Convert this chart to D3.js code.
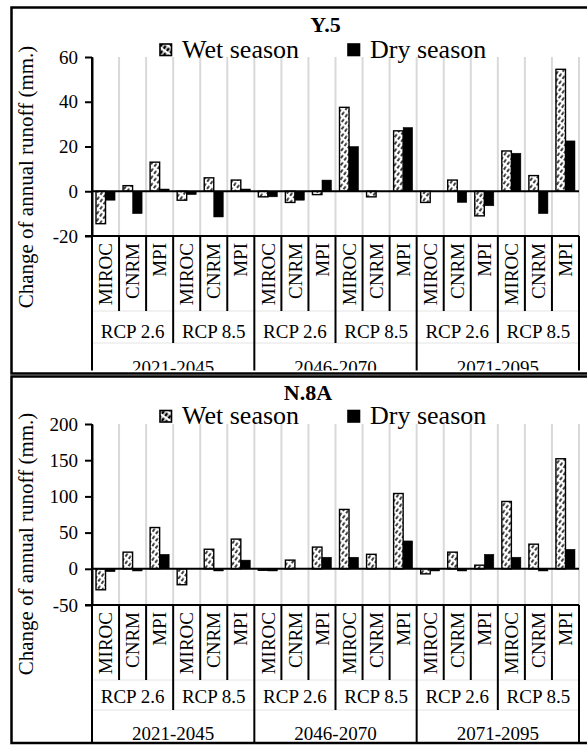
<!DOCTYPE html>
<html>
<head>
<meta charset="utf-8">
<script src="https://cdn.jsdelivr.net/npm/d3@7"></script>
<style>
  html, body { margin: 0; padding: 0; background: #fff; }
  svg { display: block; }
</style>
</head>
<body>
<svg id="chart" width="587" height="745"></svg>
<script>
// Category hierarchy of the multi-level axis
const periods = ["2021-2045", "2046-2070", "2071-2095"];
const scenarios = ["RCP 2.6", "RCP 8.5"];
const models = ["MIROC", "CNRM", "MPI"];
const seriesNames = ["Wet season", "Dry season"];

// Station Y.5 : change of annual runoff (mm.)
const y5Wet = [-14.5, 2.5, 13, -4, 6, 5, -2.5, -5, -1.5, 37.5, -2.5, 27, -5, 5, -11, 18, 7, 54.5];
const y5Dry = [-4, -10, 1, -1.5, -11.5, 1, -2.5, -4, 5, 20, 0, 28.5, 0, -5, -6.5, 17, -10, 22.5];
const y5Ticks = [-20, 0, 20, 40, 60];

// Station N.8A : change of annual runoff (mm.)
const n8aWet = [-29, 23, 57, -22, 27, 41, -2, 12, 30, 82, 20, 104, -7, 23, 5, 93, 34, 152];
const n8aDry = [-4, -3, 20, 0, -3, 12, -3, 0, 16, 16, 0, 38.5, -3, -3, 20, 16, -3, 27];
const n8aTicks = [-50, 0, 50, 100, 150, 200];

const yTitle = "Change of annual runoff (mm.)";
const SERIF = "'Liberation Serif', 'DejaVu Serif', serif";

// Flattened category list: period > scenario > model
const categories = [];
periods.forEach((p, pi) => scenarios.forEach((s, si) => models.forEach((m, mi) => {
  categories.push({ period: p, scenario: s, model: m, pi, si, mi });
})));

const svg = d3.select("#chart").style("font-family", SERIF);
const defs = svg.append("defs");

// Dashed upward-diagonal hatch (bars, and a heavier one for the legend key)
function makeHatch(id, sw) {
  const p = defs.append("pattern")
    .attr("id", id)
    .attr("patternUnits", "userSpaceOnUse")
    .attr("width", 6).attr("height", 4)
    .attr("patternTransform", "rotate(-55)");
  p.append("rect").attr("width", 6).attr("height", 4).attr("fill", "#fff");
  p.append("line")
    .attr("x1", 0).attr("x2", 3.6).attr("y1", 2).attr("y2", 2)
    .attr("stroke", "#000").attr("stroke-width", sw);
}
makeHatch("hatch", 1.5);
makeHatch("hatchKey", 2.6);

const X0 = 92, X1 = 579;
const x = d3.scaleBand().domain(d3.range(categories.length)).range([X0, X1]).paddingInner(0).paddingOuter(0);
const xs = d3.scaleBand().domain(["wet", "dry"]).range([0, x.bandwidth()]).paddingInner(0).paddingOuter(0.42);

function txt(sel, size, weight) {
  return sel.style("font-family", SERIF).style("font-size", size + "px")
    .style("font-weight", weight || "normal").attr("fill", "#000");
}

function drawPanel(cfg, idx) {
  const g = svg.append("g");
  const y = d3.scaleLinear().domain([cfg.ticks[0], cfg.ticks[cfg.ticks.length - 1]]).range([cfg.plotBottom, cfg.plotTop]);
  const axisY = cfg.plotBottom;

  // vertical gridlines at category boundaries
  g.append("g").selectAll("line")
    .data(d3.range(1, categories.length + 1))
    .join("line")
    .attr("x1", k => X0 + k * x.step()).attr("x2", k => X0 + k * x.step())
    .attr("y1", cfg.plotTop).attr("y2", axisY)
    .attr("stroke", "#d9d9d9").attr("stroke-width", 2);

  // bars
  const barG = g.append("g");
  const rows = categories.map((c, i) => ({ i, wet: cfg.wet[i], dry: cfg.dry[i] }));
  ["wet", "dry"].forEach(key => {
    barG.append("g").selectAll("rect")
      .data(rows.filter(r => r[key] !== 0))
      .join("rect")
      .attr("x", r => x(r.i) + xs(key))
      .attr("width", xs.bandwidth())
      .attr("y", r => y(Math.max(0, r[key])))
      .attr("height", r => Math.abs(y(r[key]) - y(0)))
      .attr("fill", key === "wet" ? "url(#hatch)" : "#000")
      .attr("stroke", "#000")
      .attr("stroke-width", key === "wet" ? 1.4 : 0.5);
  });

  // zero line
  g.append("line")
    .attr("x1", X0).attr("x2", X1).attr("y1", y(0)).attr("y2", y(0))
    .attr("stroke", "#000").attr("stroke-width", 2);

  // value axis
  const ax = g.append("g")
    .attr("transform", `translate(${X0},0)`)
    .call(d3.axisLeft(y).tickValues(cfg.ticks).tickSize(7).tickSizeOuter(0).tickPadding(7).tickFormat(d => String(d)));
  ax.attr("font-family", null).attr("font-size", null);
  ax.select(".domain").attr("stroke", "#000").attr("stroke-width", 2);
  ax.selectAll(".tick line").attr("stroke", "#000").attr("stroke-width", 2);
  txt(ax.selectAll(".tick text"), 19);

  // category axis line
  g.append("line")
    .attr("x1", X0 - 7).attr("x2", X1).attr("y1", axisY).attr("y2", axisY)
    .attr("stroke", "#000").attr("stroke-width", 2);

  // faint row separators of the multi-level axis
  [cfg.modelRow, cfg.rcpRow].forEach(h => {
    g.append("line")
      .attr("x1", X0).attr("x2", X1).attr("y1", axisY + h).attr("y2", axisY + h)
      .attr("stroke", "#e4e4e4").attr("stroke-width", 1);
  });

  // category dividers and labels, clipped to the panel interior
  const clipId = "clip" + idx;
  defs.append("clipPath").attr("id", clipId).append("rect")
    .attr("x", 0).attr("y", cfg.box[1]).attr("width", 587).attr("height", cfg.clipBottom - cfg.box[1]);
  const lab = g.append("g").attr("clip-path", `url(#${clipId})`);
  lab.append("g").selectAll("line")
    .data(d3.range(0, categories.length + 1))
    .join("line")
    .attr("x1", k => X0 + k * x.step()).attr("x2", k => X0 + k * x.step())
    .attr("y1", k => k === 0 ? cfg.plotTop : axisY)
    .attr("y2", k => k % 6 === 0 ? cfg.box[3] : (k % 3 === 0 ? axisY + cfg.rcpRow : axisY + cfg.modelRow))
    .attr("stroke", "#000").attr("stroke-width", 2);

  // model labels (rotated)
  txt(lab.append("g").selectAll("text")
    .data(categories)
    .join("text")
    .attr("transform", (c, i) => `translate(${x(i) + x.bandwidth() / 2},${axisY + 7}) rotate(-90)`)
    .attr("text-anchor", "end")
    .attr("dy", "0.35em")
    .text(c => c.model), 19);

  // scenario labels
  const scen = [];
  periods.forEach((p, pi) => scenarios.forEach((s, si) => scen.push({ s, start: (pi * 2 + si) * 3 })));
  txt(lab.append("g").selectAll("text")
    .data(scen)
    .join("text")
    .attr("x", d => X0 + (d.start + 1.5) * x.step())
    .attr("y", axisY + cfg.rcpBase)
    .attr("text-anchor", "middle")
    .text(d => d.s), 19);

  // period labels
  txt(lab.append("g").selectAll("text")
    .data(periods)
    .join("text")
    .attr("x", (p, pi) => X0 + (pi * 6 + 3) * x.step())
    .attr("y", axisY + cfg.periodBase)
    .attr("text-anchor", "middle")
    .text(p => p), 19);

  // axis title
  txt(g.append("text")
    .attr("transform", `translate(33,${cfg.plotTop + 120}) rotate(-90)`)
    .attr("text-anchor", "middle")
    .text(yTitle), 21);

  // chart title
  txt(g.append("text")
    .attr("x", cfg.titleX).attr("y", cfg.titleY)
    .attr("text-anchor", "middle")
    .text(cfg.name), 22, "bold");

  // legend
  const leg = g.append("g");
  const legX = [160, 348];
  seriesNames.forEach((n, i) => {
    leg.append("rect")
      .attr("x", legX[i]).attr("y", cfg.legendBase - 13.5)
      .attr("width", 11.5).attr("height", 11.5)
      .attr("fill", i === 0 ? "url(#hatchKey)" : "#000")
      .attr("stroke", "#000").attr("stroke-width", 1.6);
    txt(leg.append("text")
      .attr("x", legX[i] + 22).attr("y", cfg.legendBase)
      .text(n), 26);
  });

  // panel frame
  g.append("rect")
    .attr("x", cfg.box[0]).attr("y", cfg.box[1])
    .attr("width", cfg.box[2] - cfg.box[0]).attr("height", cfg.box[3] - cfg.box[1])
    .attr("fill", "none").attr("stroke", "#000").attr("stroke-width", 2.5);
}

drawPanel({
  name: "Y.5", wet: y5Wet, dry: y5Dry, ticks: y5Ticks,
  box: [11.5, 7.5, 589, 373.5], plotTop: 57, plotBottom: 236, clipBottom: 370.5,
  titleX: 325.5, titleY: 31.5, legendBase: 57.5,
  modelRow: 75, rcpRow: 107, rcpBase: 102, periodBase: 138
}, 0);

drawPanel({
  name: "N.8A", wet: n8aWet, dry: n8aDry, ticks: n8aTicks,
  box: [11.5, 376.5, 589, 743], plotTop: 424, plotBottom: 605, clipBottom: 742,
  titleX: 308, titleY: 400, legendBase: 424,
  modelRow: 75, rcpRow: 105, rcpBase: 98, periodBase: 135
}, 1);
</script>
</body>
</html>
